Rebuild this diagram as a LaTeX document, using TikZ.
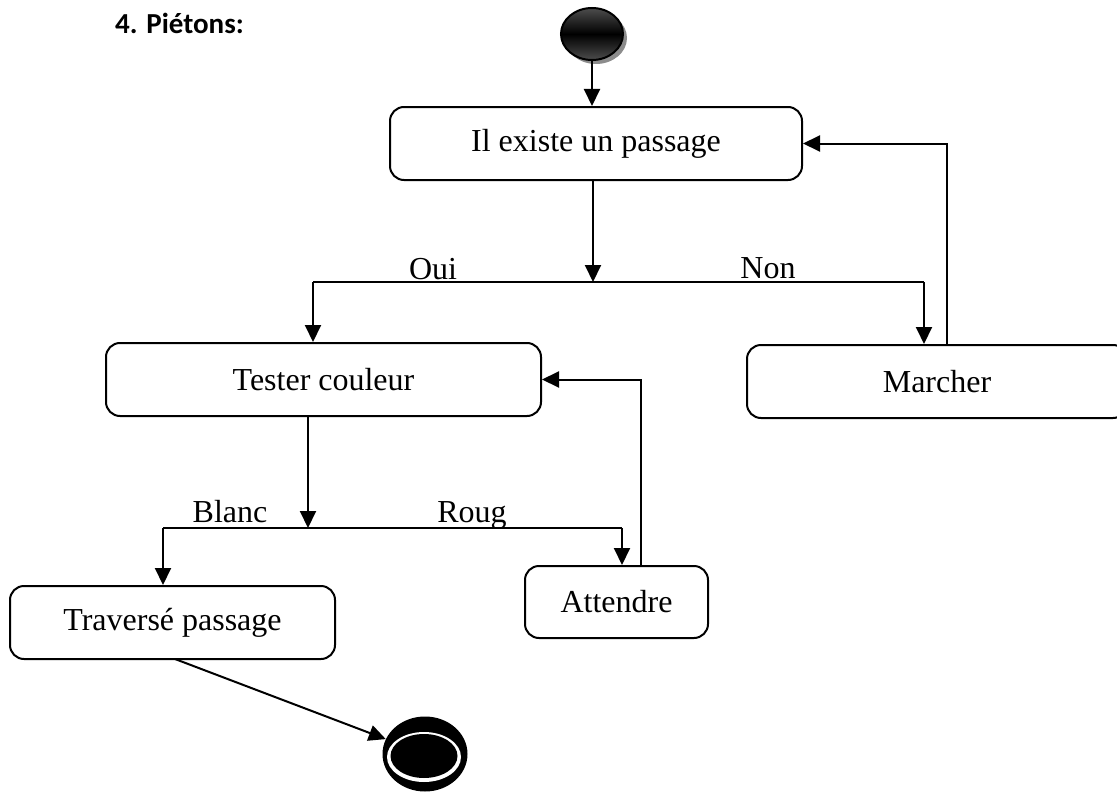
\documentclass[tikz,border=0pt]{standalone}
\usepackage{fontspec}
\setmainfont{Liberation Serif}
\newfontfamily\titlefont{Carlito}
\usetikzlibrary{arrows.meta,shapes.geometric}
\begin{document}
\begin{tikzpicture}[x=1pt,y=-1pt,
  statebox/.style={draw,rounded corners=14pt,line width=2pt,inner sep=0pt,
    font=\fontsize{32}{38}\selectfont},
  flow/.style={line width=2pt,-{Triangle[length=17pt,width=16pt]}},
  wire/.style={line width=2pt},
  guard/.style={anchor=base,inner sep=0pt,font=\fontsize{32}{38}\selectfont}]
\useasboundingbox (0,0) rectangle (1117,792);

% title
\node[anchor=base west,inner sep=0pt,font=\titlefont\bfseries\fontsize{29}{34}\selectfont]
  (title) at (115,34) {4. Piétons:};

% initial state with its shadow
\fill[black!45] (596,38) ellipse [x radius=31pt, y radius=26pt];
\node[ellipse,draw,line width=2pt,minimum width=62pt,minimum height=52pt,inner sep=0pt,
  top color=black!70,bottom color=black!70,middle color=black] (start) at (592,34) {};

% activity states
\node[statebox,minimum width=412pt,minimum height=73pt] (passage) at (596,143.5) {Il existe un passage};
\node[statebox,minimum width=380pt,minimum height=73pt] (marcher) at (937,381.5) {Marcher};
\node[statebox,minimum width=435pt,minimum height=73pt] (tester) at (323.5,379.5) {Tester couleur};
\node[statebox,minimum width=183pt,minimum height=72pt] (attendre) at (616.5,602) {Attendre};
\node[statebox,minimum width=325pt,minimum height=73pt] (traverse) at (172.5,622.5) {Traversé passage};

% final state
\node[ellipse,fill=black,minimum width=85pt,minimum height=75pt,inner sep=0pt] (fin) at (425,754) {};
\fill[white] (424,757) ellipse [x radius=37pt, y radius=25pt];
\fill[black] (424,756) ellipse [x radius=33.5pt, y radius=22pt];

% branch points
\coordinate (j1) at (593,282);
\coordinate (oui) at (313,282);
\coordinate (non) at (924,282);
\coordinate (mback) at (947,282);
\coordinate (j2) at (308,528);
\coordinate (blanc) at (163,528);
\coordinate (roug) at (622,528);
\coordinate (aback) at (641,528);
\coordinate (tout) at (175,659);

% connectors
\draw[flow] (start) -- (start |- passage.north);
\draw[flow] (j1 |- passage.south) -- (j1);
\draw[wire] (oui) -- (non);
\draw[flow] (oui) -- (oui |- tester.north);
\draw[flow] (non) -- (non |- marcher.north);
\draw[flow] (mback |- marcher.north) |- (passage.east);

\draw[flow] (j2 |- tester.south) -- (j2);
\draw[wire] (blanc) -- (roug);
\draw[flow] (blanc) -- (blanc |- traverse.north);
\draw[flow] (roug) -- (roug |- attendre.north);
\draw[flow] (aback |- attendre.north) |- (tester.east);

\draw[flow] (tout) -- (fin);

% guards
\node[guard] (goui) at (433,279) {Oui};
\node[guard] (gnon) at (768,278) {Non};
\node[guard] (gblanc) at (230,522) {Blanc};
\node[guard] (groug) at (472,522) {Roug};
\end{tikzpicture}
\end{document}
